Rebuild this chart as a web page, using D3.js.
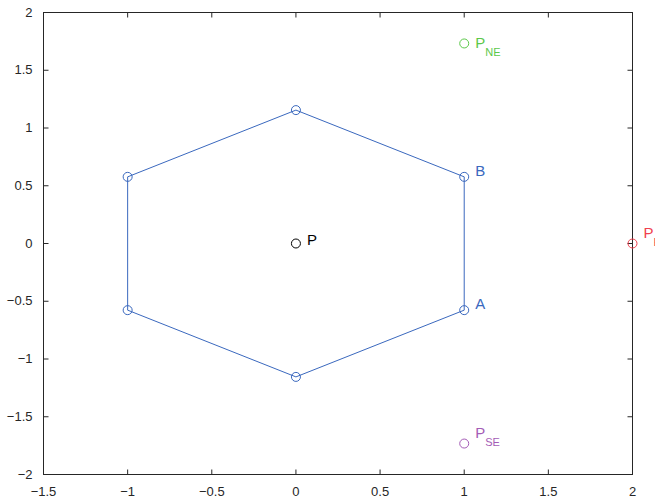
<!DOCTYPE html>
<html>
<head>
<meta charset="utf-8">
<script src="https://cdn.jsdelivr.net/npm/d3@7"></script>
<style>
  body { margin: 0; background: #fff; }
  text { font-family: "Liberation Sans", Arial, Helvetica, sans-serif; }
</style>
</head>
<body>
<div id="graph"></div>
<script>
// data
var hexX = [1, 1, 0, -1, -1, 0, 1];
var hexY = [-0.577, 0.577, 1.155, 0.577, -0.577, -1.155, -0.577];
var hexNames = ["A", "B", "", "", "", "", ""];

var ptNames = ["P", "P", "P", "P"];
var ptSubs = ["", "NE", "E", "SE"];
var ptX = [0, 1, 2, 1];
var ptY = [0, 1.732, 0, -1.732];
var ptColors = ["#000000", "#5cc84a", "#f0404e", "#a45cb6"];

var xTicks = [-1.5, -1, -0.5, 0, 0.5, 1, 1.5, 2];
var yTicks = [-2, -1.5, -1, -0.5, 0, 0.5, 1, 1.5, 2];

// set the dimensions and margins of the graph
var margin = {top: 12, right: 23, bottom: 26, left: 43},
    width = 655 - margin.left - margin.right,
    height = 500 - margin.top - margin.bottom;

// half pixel shift keeps 1px lines sharp
var svg = d3.select("#graph")
  .append("svg")
    .attr("width", 655)
    .attr("height", 500)
  .append("g")
    .attr("transform", "translate(" + (margin.left + 0.5) + "," + (margin.top + 0.5) + ")");

var x = d3.scaleLinear().domain([-1.5, 2]).range([0, width]);
var y = d3.scaleLinear().domain([-2, 2]).range([height, 0]);

var fmt = function(d) { return d3.format("")(d); };

// axes, ticks pointing inward like matlab
function styleAxis(g) {
  g.select(".domain").remove();
  g.selectAll("line").attr("stroke", "#262626");
  g.selectAll("text").attr("fill", "#262626").style("font-size", "13px");
}

svg.append("g")
  .attr("transform", "translate(0," + height + ")")
  .call(d3.axisBottom(x).tickValues(xTicks).tickSize(-5).tickPadding(12).offset(0).tickFormat(fmt))
  .call(styleAxis);

svg.append("g")
  .call(d3.axisTop(x).tickValues(xTicks).tickSize(-5).offset(0).tickFormat(""))
  .call(styleAxis);

svg.append("g")
  .call(d3.axisLeft(y).tickValues(yTicks).tickSize(-5).tickPadding(11).offset(0).tickFormat(fmt))
  .call(styleAxis);

svg.append("g")
  .attr("transform", "translate(" + width + ",0)")
  .call(d3.axisRight(y).tickValues(yTicks).tickSize(-5).offset(0).tickFormat(""))
  .call(styleAxis);

// box
svg.append("rect")
  .attr("width", width)
  .attr("height", height)
  .attr("fill", "none")
  .attr("stroke", "#262626")
  .attr("stroke-width", 1);

// hexagon
var hex = hexX.map(function(d, i) { return {x: d, y: hexY[i], name: hexNames[i]}; });

svg.append("path")
  .datum(hex)
  .attr("fill", "none")
  .attr("stroke", "#3a68be")
  .attr("stroke-width", 1)
  .attr("d", d3.line()
    .x(function(d) { return x(d.x); })
    .y(function(d) { return y(d.y); }));

svg.selectAll(".hexpt")
  .data(hex.slice(0, 6))
  .enter().append("circle")
    .attr("cx", function(d) { return x(d.x); })
    .attr("cy", function(d) { return y(d.y); })
    .attr("r", 4.5)
    .attr("fill", "none")
    .attr("stroke", "#3a68be");

svg.selectAll(".hexlbl")
  .data(hex.slice(0, 6).filter(function(d) { return d.name; }))
  .enter().append("text")
    .attr("x", function(d) { return x(d.x) + 11; })
    .attr("y", function(d) { return y(d.y) - 1; })
    .attr("fill", "#3a68be")
    .style("font-size", "15px")
    .text(function(d) { return d.name; });

// the P points
var pts = ptX.map(function(d, i) {
  return {x: d, y: ptY[i], name: ptNames[i], sub: ptSubs[i], color: ptColors[i]};
});

svg.selectAll(".pt")
  .data(pts)
  .enter().append("circle")
    .attr("cx", function(d) { return x(d.x); })
    .attr("cy", function(d) { return y(d.y); })
    .attr("r", 4.5)
    .attr("fill", "none")
    .attr("stroke", function(d) { return d.color; });

var lbl = svg.selectAll(".ptlbl")
  .data(pts)
  .enter().append("text")
    .attr("x", function(d) { return x(d.x) + 11; })
    .attr("y", function(d) {
      if (!d.sub) return y(d.y) + 1;
      return y(d.y) + (d.y > 0 ? 5 : -6);
    })
    .attr("fill", function(d) { return d.color; })
    .style("font-size", "15px");

lbl.append("tspan").text(function(d) { return d.name; });
lbl.append("tspan")
  .attr("dy", 8)
  .style("font-size", "11px")
  .text(function(d) { return d.sub; });
</script>
</body>
</html>
